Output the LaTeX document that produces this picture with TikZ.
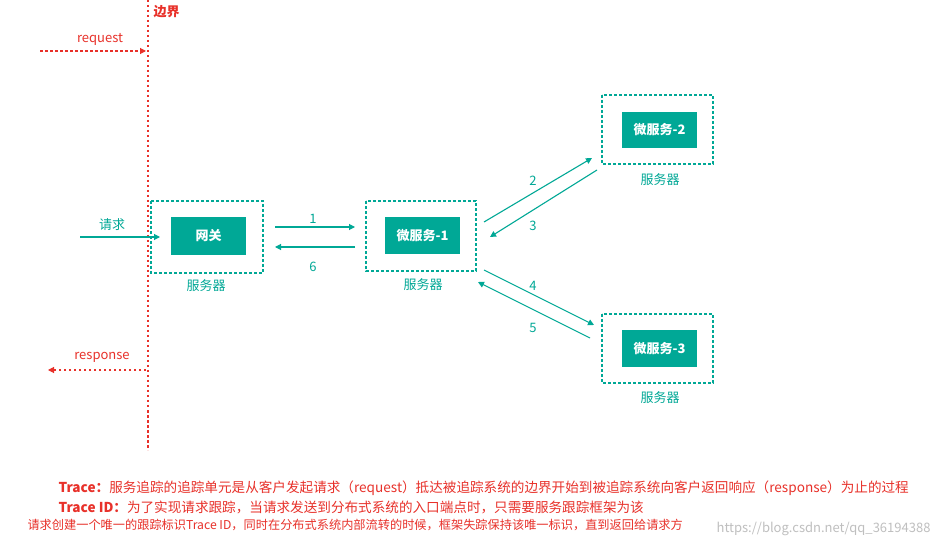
\documentclass[tikz,border=0pt]{standalone}
\usepackage{fontspec}
\setmainfont{Noto Sans CJK SC}
\usetikzlibrary{arrows.meta}
\definecolor{teal1}{HTML}{00A896}
\definecolor{red1}{HTML}{E8312A}
\tikzset{
 px/.style={x=1pt,y=-1pt},
 outer/.style={draw=teal1,dashed,line width=1.1pt,dash pattern=on 3pt off 2pt},
 inner/.style={fill=teal1,text=white,font=\bfseries\fontsize{13}{13}\selectfont},
 lbl/.style={text=teal1,font=\fontsize{13}{13}\selectfont},
 conn/.style={draw=teal1,line width=1.1pt,-{Triangle[length=6pt,width=6pt]}},
 rconn/.style={draw=red1,line width=1.1pt,dash pattern=on 2.5pt off 2.5pt,-{Triangle[length=6pt,width=6pt]}},
 rl/.style={text=red1,font=\fontsize{13}{13}\selectfont},
}
\begin{document}
\begin{tikzpicture}[px]
\useasboundingbox[fill=white] (0,0) rectangle (938,548);
% boundary
\coordinate (bt) at (148,0); \coordinate (bb) at (148,450);
\draw[red1,line width=1.3pt,dash pattern=on 2.5pt off 2.5pt] (bt) -- (bb);
\node[text=red1,font=\bfseries\fontsize{13}{13}\selectfont,anchor=west] (bj) at (150,12) {边界};
\coordinate (rq1) at (40,51); \coordinate (rq2) at (146,51);
\draw[rconn] (rq1) -- (rq2);
\node[rl] (rqt) at (100,39) {request};
\coordinate (rs1) at (146,370); \coordinate (rs2) at (48,370);
\draw[rconn] (rs1) -- (rs2);
\node[rl] (rst) at (102,357) {response};
% boxes
\draw[outer] (151,201) rectangle (263,273);
\node[inner,minimum width=75pt,minimum height=38pt] (gw) at (208.5,236) {网关};
\node[lbl] (s0) at (206,286) {服务器};
\draw[outer] (366,201) rectangle (476,271);
\node[inner,minimum width=75pt,minimum height=37pt] (m1) at (422.5,235.5) {微服务-1};
\node[lbl] (s1) at (423,285) {服务器};
\draw[outer] (602,95) rectangle (713,164);
\node[inner,minimum width=75pt,minimum height=36pt] (m2) at (659.5,130) {微服务-2};
\node[lbl] (s2) at (660,180) {服务器};
\draw[outer] (602,314) rectangle (713,383);
\node[inner,minimum width=75pt,minimum height=37pt] (m3) at (659.5,348.5) {微服务-3};
\node[lbl] (s3) at (660,398) {服务器};
% request in
\coordinate (q1) at (80,237); \coordinate (q2) at (160,237);
\draw[conn] (q1) -- (q2);
\node[lbl] (qt) at (112,225) {请求};
% arrows
\draw[conn] (275,227) -- (355,227); \node[lbl] at (313,219) {1};
\draw[conn] (355,247) -- (275,247); \node[lbl] at (313,267) {6};
\draw[conn] (484,222) -- (592,158); \node[lbl] at (533,181) {2};
\draw[conn] (597,170) -- (490,237); \node[lbl] at (533,226) {3};
\draw[conn] (484,270) -- (594,325); \node[lbl] at (533,286) {4};
\draw[conn] (590,338) -- (478,282); \node[lbl] at (533,328) {5};
% texts
\node[anchor=west,text=red1,font=\fontsize{13.6}{13.6}\selectfont] (t1) at (55,488) {\textbf{Trace：}服务追踪的追踪单元是从客户发起请求（request）抵达被追踪系统的边界开始到被追踪系统向客户返回响应（response）为止的过程};
\node[anchor=west,text=red1,font=\fontsize{13.6}{13.6}\selectfont] (t2) at (55,507) {\textbf{Trace ID：}为了实现请求跟踪，当请求发送到分布式系统的入口端点时，只需要服务跟踪框架为该};
\node[anchor=west,text=red1,font=\fontsize{12.2}{12.2}\selectfont] (t3) at (24,525) {请求创建一个唯一的跟踪标识Trace ID，同时在分布式系统内部流转的时候，框架失踪保持该唯一标识，直到返回给请求方};
\node[anchor=east,text=black!25,font=\fontsize{13}{13}\selectfont] (wm) at (934,529) {https://blog.csdn.net/qq\_36194388};
\end{tikzpicture}
\end{document}
